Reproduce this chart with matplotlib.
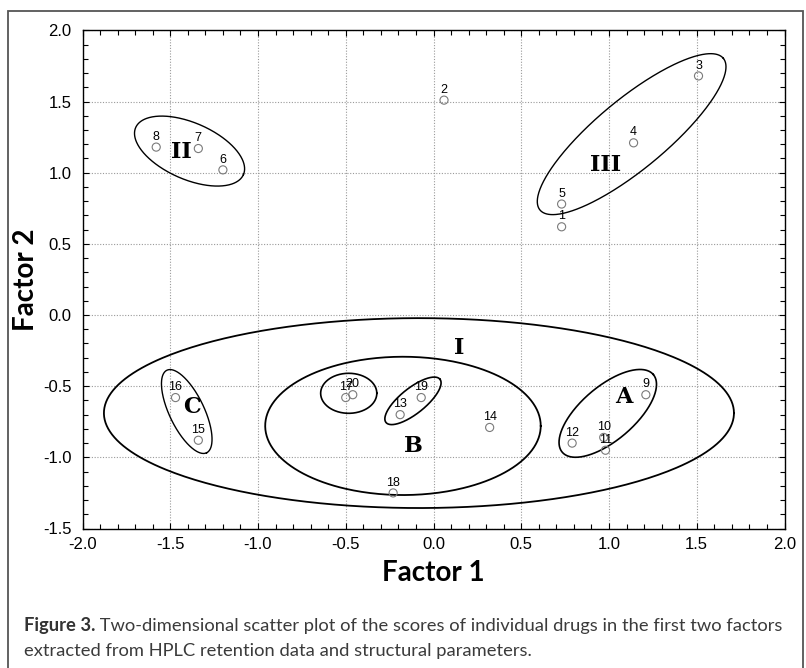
import numpy as np
import matplotlib
matplotlib.use("Agg")
import matplotlib.pyplot as plt
from matplotlib import font_manager
from matplotlib.ticker import MultipleLocator, FormatStrFormatter
from matplotlib.patches import Rectangle

# ---------------- data ----------------
labels = ["1", "2", "3", "4", "5", "6", "7", "8", "9", "10",
          "11", "12", "13", "14", "15", "16", "17", "18", "19", "20"]
factor1 = [0.73, 0.06, 1.51, 1.14, 0.73, -1.20, -1.34, -1.58, 1.21, 0.97,
           0.98, 0.79, -0.19, 0.32, -1.34, -1.47, -0.50, -0.23, -0.07, -0.46]
factor2 = [0.62, 1.51, 1.68, 1.21, 0.78, 1.02, 1.17, 1.18, -0.56, -0.86,
           -0.95, -0.90, -0.70, -0.79, -0.88, -0.58, -0.58, -1.25, -0.58, -0.56]

# cluster ellipses: centre (data), semi-axes (Factor-1 units, visual), visual angle
ell_cx = [-0.083, -0.174, -0.483, -0.117, 0.993, -1.406, -1.390, 1.129]
ell_cy = [-0.689, -0.779, -0.550, -0.603, -0.691, -0.678, 1.152, 1.271]
ell_a = [1.795, 0.785, 0.160, 0.197, 0.341, 0.261, 0.335, 0.678]
ell_b = [0.541, 0.394, 0.114, 0.072, 0.153, 0.099, 0.161, 0.199]
ell_ang = [0, 0, 0, 38.7, 40.5, -64.3, -23.6, 39.6]

group_names = ["I", "II", "III", "A", "B", "C"]
group_x = [0.149, -1.437, 0.982, 1.084, -0.112, -1.376]
group_y = [-0.234, 1.143, 1.056, -0.578, -0.919, -0.648]

x_ticks = [-2.0, -1.5, -1.0, -0.5, 0.0, 0.5, 1.0, 1.5, 2.0]
y_ticks = [-1.5, -1.0, -0.5, 0.0, 0.5, 1.0, 1.5, 2.0]

caption_bold = "Figure 3."
caption_rest1 = " Two-dimensional scatter plot of the scores of individual drugs in the first two factors"
caption_line2 = "extracted from HPLC retention data and structural parameters."


def pick_font(cands):
    names = {f.name for f in font_manager.fontManager.ttflist}
    for c in cands:
        if c in names:
            return c
    return "DejaVu Sans"


arial = pick_font(["Liberation Sans", "Arial"])
narrow = pick_font(["Liberation Sans Narrow", "Lato", "Open Sans"])
capfont = pick_font(["Liberation Sans Narrow", "Lato", "Open Sans"])
serif = pick_font(["DejaVu Serif", "Liberation Serif"])

W, H = 806, 668
fig = plt.figure(figsize=(W / 100, H / 100), dpi=100)
fig.patch.set_facecolor("white")

# outer frame
fig.patches.append(Rectangle((8 / W, -0.05), (803 - 8) / W, 1.05 - 11 / H,
                             transform=fig.transFigure, fill=False,
                             edgecolor="#555555", linewidth=1.3))

ax = fig.add_axes([82.5 / W, 1 - 528.5 / H, (784.5 - 82.5) / W, (528.5 - 30.4) / H])
ax.set_xlim(-2.0, 2.0)
ax.set_ylim(-1.5, 2.0)
ax.set_xticks(x_ticks)
ax.set_yticks(y_ticks)
ax.xaxis.set_major_formatter(FormatStrFormatter("%.1f"))
ax.yaxis.set_major_formatter(FormatStrFormatter("%.1f"))
ax.xaxis.set_minor_locator(MultipleLocator(0.1))
ax.yaxis.set_minor_locator(MultipleLocator(0.1))
ax.tick_params(which="both", direction="in", top=True, right=True,
               labelsize=12, width=0.8, color="black")
ax.tick_params(which="major", length=4)
ax.tick_params(which="minor", length=3.5)
ax.tick_params(axis="x", pad=6)
ax.tick_params(axis="y", pad=8)
for lab in ax.get_xticklabels() + ax.get_yticklabels():
    lab.set_fontfamily(arial)
ax.grid(True, which="major", linestyle=(0, (1, 1.5)), color="#9a9a9a", linewidth=0.8)
ax.set_axisbelow(True)
for s in ax.spines.values():
    s.set_linewidth(1.0)

# points
ax.scatter(factor1, factor2, s=34, facecolors="none", edgecolors="#7a7a7a",
           linewidths=0.8, zorder=3)
for lab, x, y in zip(labels, factor1, factor2):
    ax.annotate(lab, (x, y), xytext=(0, 5.3), textcoords="offset points",
                ha="center", va="baseline", fontsize=9, fontfamily=arial,
                color="black", zorder=4)

# ellipses (drawn in visual space so the angle looks right on screen)
fig.canvas.draw()
bb = ax.get_window_extent()
k = (bb.width / 4.0) / (bb.height / 3.5)
t = np.linspace(0, 2 * np.pi, 400)
lws = [1.3, 1.3, 1.2, 1.2, 1.2, 1.0, 1.0, 1.0]
for cx, cy, a, b, ang, lw in zip(ell_cx, ell_cy, ell_a, ell_b, ell_ang, lws):
    ph = np.deg2rad(ang)
    dx = a * np.cos(t) * np.cos(ph) - b * np.sin(t) * np.sin(ph)
    dy = a * np.cos(t) * np.sin(ph) + b * np.sin(t) * np.cos(ph)
    ax.plot(cx + dx, cy + dy * k, color="black", linewidth=lw, zorder=2)

for name, x, y in zip(group_names, group_x, group_y):
    ax.text(x, y, name, ha="center", va="center", fontsize=16,
            fontfamily=serif, fontweight="bold", color="black", zorder=5)

ax.set_xlabel("Factor 1", fontsize=20, fontweight="bold", fontfamily=narrow, labelpad=6)
ax.set_ylabel("Factor 2", fontsize=20, fontweight="bold", fontfamily=narrow, labelpad=3)

# caption
fig.canvas.draw()
r = fig.canvas.get_renderer()
cap_col = "#3b3b3b"
x0 = 24 / W
y1 = 1 - 631 / H
y2 = 1 - 656 / H
tb = fig.text(x0, y1, caption_bold, fontsize=13.2, fontweight="bold",
              fontfamily=capfont, color="#333333", va="baseline")
ext = tb.get_window_extent(renderer=r)
tr = fig.text(ext.x1 / W, y1, caption_rest1, fontsize=13.2, fontfamily=capfont,
              color=cap_col, va="baseline")
fig.text(x0, y2, caption_line2, fontsize=13.2, fontfamily=capfont,
         color=cap_col, va="baseline")

fig.savefig("out.png", dpi=100)
